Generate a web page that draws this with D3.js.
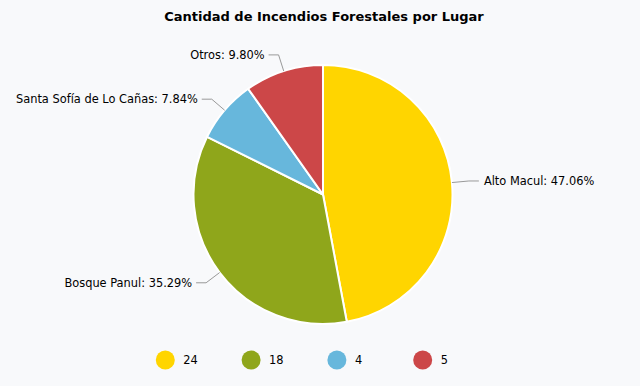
<!DOCTYPE html>
<html>
<head>
<meta charset="utf-8">
<script src="https://cdn.jsdelivr.net/npm/d3@7"></script>
<style>
  body { margin: 0; background: #f8f9fb; }
  svg { display: block; font-family: "DejaVu Sans", Verdana, sans-serif; }
</style>
</head>
<body>
<div id="chart"></div>
<script>
// chart data
const places = ["Alto Macul", "Bosque Panul", "Santa Sofía de Lo Cañas", "Otros"];
const fires = [24, 18, 4, 5];
const colors = ["#ffd500", "#8fa61b", "#67b7dc", "#cc4748"];

const width = 640, height = 386;
const cx = 323, cy = 194.5, radius = 129.5;

const svg = d3.select("#chart").append("svg")
  .attr("width", width)
  .attr("height", height);

svg.append("rect")
  .attr("width", width).attr("height", height)
  .attr("fill", "#f8f9fb");

svg.append("text")
  .attr("x", 324).attr("y", 21)
  .attr("text-anchor", "middle")
  .attr("font-size", 13)
  .attr("font-weight", "bold")
  .attr("fill", "#000")
  .text("Cantidad de Incendios Forestales por Lugar");

const total = d3.sum(fires);
const pie = d3.pie().sort(null).value(d => d.value);
const arcs = pie(places.map((p, i) => ({ name: p, value: fires[i], color: colors[i] })));

const arc = d3.arc().innerRadius(0).outerRadius(radius);
const g = svg.append("g").attr("transform", `translate(${cx},${cy})`);

g.selectAll("path")
  .data(arcs)
  .join("path")
  .attr("d", arc)
  .attr("fill", d => d.data.color)
  .attr("stroke", "#fff")
  .attr("stroke-width", 2);

// labels with leader lines
const pt = (a, r) => [Math.sin(a) * r, -Math.cos(a) * r];
arcs.forEach(d => {
  const mid = (d.startAngle + d.endAngle) / 2;
  const p0 = pt(mid, radius);
  const p1 = pt(mid, radius + 17);
  const right = Math.sin(mid) > 0;
  const p2 = [p1[0] + (right ? 10 : -10), p1[1]];
  g.append("polyline")
    .attr("points", [p0, p1, p2].map(p => p.join(",")).join(" "))
    .attr("fill", "none")
    .attr("stroke", "#999")
    .attr("stroke-width", 1);
  g.append("text")
    .attr("x", p2[0] + (right ? 5 : -4))
    .attr("y", p2[1])
    .attr("dy", "0.35em")
    .attr("text-anchor", right ? "start" : "end")
    .attr("font-size", 11.4)
    .attr("fill", "#000")
    .text(`${d.data.name}: ${(d.data.value / total * 100).toFixed(2)}%`);
});

// legend
const lx = d3.scalePoint().domain(d3.range(fires.length)).range([165.3, 422.7]);
const legend = svg.append("g").selectAll("g")
  .data(fires)
  .join("g")
  .attr("transform", (d, i) => `translate(${lx(i)},360)`);
legend.append("circle")
  .attr("r", 9.5)
  .attr("fill", (d, i) => colors[i]);
legend.append("text")
  .attr("x", 18)
  .attr("dy", "0.35em")
  .attr("font-size", 11.4)
  .attr("fill", "#000")
  .text(d => d);
</script>
</body>
</html>
